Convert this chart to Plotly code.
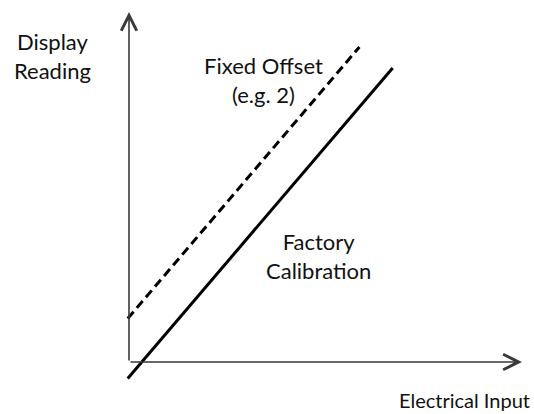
import plotly.graph_objects as go

# Schematic: display reading vs electrical input
factory_input = [-0.05, 10.3]
factory_reading = [-0.55, 9.8]
offset_input = [-0.05, 9.0]
offset_reading = [1.45, 10.5]

# Length of the drawn (arrowed) axes, in data units
x_axis_end = 15.35
y_axis_end = 11.67

FONT = "Lato"
TEXT_COLOR = "#111111"
AXIS_COLOR = "#3a3a3a"

fig = go.Figure()

fig.add_trace(go.Scatter(
    x=factory_input, y=factory_reading, mode="lines",
    line=dict(color="black", width=3), showlegend=False, hoverinfo="skip",
))
fig.add_trace(go.Scatter(
    x=offset_input, y=offset_reading, mode="lines",
    line=dict(color="black", width=3, dash="9px,5px"), showlegend=False, hoverinfo="skip",
))

# Arrowed axes
for tip_x, tip_y in [(0, y_axis_end), (x_axis_end, 0)]:
    fig.add_annotation(
        x=tip_x, y=tip_y, ax=0, ay=0, xref="x", yref="y", axref="x", ayref="y",
        text="", showarrow=True, arrowhead=5, arrowsize=1.9, arrowwidth=1.6,
        arrowcolor=AXIS_COLOR, standoff=0, startstandoff=0,
    )

W, H = 534, 414
labels = [
    ("Display<br>Reading", 52, 56, "center", 22),
    ("Fixed Offset<br>(e.g. 2)", 263, 80, "center", 22),
    ("Factory<br>Calibration", 318, 256, "center", 22),
    ("Electrical Input", 532, 400, "right", 20),
]
for text, px, py, anchor, size in labels:
    fig.add_annotation(
        x=px / W, y=1 - py / H, xref="paper", yref="paper", text=text,
        showarrow=False, xanchor=anchor, yanchor="middle", align="center",
        font=dict(family=FONT, size=size, color=TEXT_COLOR),
    )

fig.update_layout(
    width=W, height=H, margin=dict(l=0, r=0, t=0, b=0),
    paper_bgcolor="white", plot_bgcolor="white",
    xaxis=dict(range=[-129 / 25.6, (W - 129) / 25.6], visible=False, fixedrange=True),
    yaxis=dict(range=[(362 - H) / 30, 362 / 30], visible=False, fixedrange=True),
)

fig.write_html("out.html")
